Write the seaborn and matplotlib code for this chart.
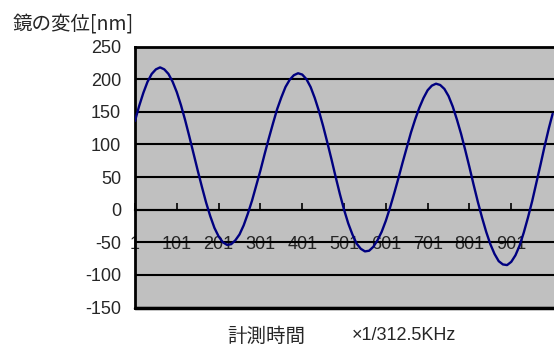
import matplotlib
matplotlib.use('Agg')
import matplotlib.pyplot as plt
import pandas as pd
import seaborn as sns

# ---- data ----
sample_index = [1, 11, 21, 31, 41, 51, 61,
                71, 81, 91, 101, 111, 121, 131, 141, 151, 161, 171, 181, 191, 201, 211, 221,
                231, 241, 251, 261, 271, 281, 291, 301, 311, 321, 331, 341, 351, 361, 371, 381, 391,
                401, 411, 421, 431, 441, 451, 461, 471, 481, 491, 501, 511, 521, 531, 541, 551,
                561, 571, 581, 591, 601, 611, 621, 631, 641, 651, 661, 671, 681, 691, 701, 711, 721,
                731, 741, 751, 761, 771, 781, 791, 801, 811, 821, 831, 841, 851, 861, 871, 881,
                891, 901, 911, 921, 931, 941, 951, 961, 971, 981, 991, 1000]
displacement_nm = [136, 159, 179, 196, 208, 215, 218,
                   215, 208, 196, 180, 160, 137, 112, 86, 60, 35, 11, -10, -28, -41, -50, -54,
                   -53, -47, -38, -24, -6, 14, 37, 60, 85, 109, 132, 154, 172, 188, 199, 206, 209,
                   207, 200, 188, 171, 151, 128, 103, 77, 50, 24, 0, -21, -38, -52, -60, -64,
                   -63, -57, -47, -34, -17, 3, 25, 48, 72, 95, 118, 138, 156, 171, 183, 190, 193,
                   191, 185, 174, 158, 138, 116, 91, 65, 38, 12, -12, -34, -53, -68, -79, -84,
                   -85, -80, -70, -55, -35, -12, 13, 41, 69, 98, 125, 147]
y_ticks = [-150, -100, -50, 0, 50, 100, 150, 200, 250]
x_tick_positions = [1, 101, 201, 301, 401, 501, 601, 701, 801, 901]
x_tick_labels = ['1', '101', '201', '301', '401', '501', '601', '701', '801', '901']
title_text = '鏡の変位[nm]'
xlabel_main = '計測時間'
xlabel_unit = '×1/312.5KHz'

sns.set_style('white')
plt.rcParams['font.family'] = ['Liberation Sans', 'Noto Sans CJK JP', 'DejaVu Sans']
plt.rcParams['axes.unicode_minus'] = False

W, H = 554, 347
fig = plt.figure(figsize=(W / 100, H / 100), dpi=100)
ax = fig.add_axes([135 / W, 1 - 307.5 / H, (556 - 135) / W, 261 / H])

df = pd.DataFrame({'index': sample_index, 'value': displacement_nm})
sns.lineplot(data=df, x='index', y='value', ax=ax, color='#000080', linewidth=1.7, zorder=3)

ax.set_facecolor('#C0C0C0')
ax.set_xlim(1, 1008)
ax.set_ylim(-150, 250)
ax.set_yticks(y_ticks)
ax.set_xticks(x_tick_positions, labels=x_tick_labels)
ax.set_xlabel('')
ax.set_ylabel('')

ax.yaxis.grid(True, color='black', linewidth=1.5)
ax.xaxis.grid(False)
ax.set_axisbelow(True)

ax.spines['bottom'].set_position(('data', 0))
ax.spines['bottom'].set_color('black')
ax.spines['bottom'].set_linewidth(1.5)
for s in ['top', 'left']:
    ax.spines[s].set_color('black')
    ax.spines[s].set_linewidth(2)
ax.spines['right'].set_visible(False)
ax.axhline(-150, color='black', linewidth=2.5, clip_on=False, zorder=4)

ax.tick_params(axis='x', direction='in', length=5, width=1.2, color='black',
               pad=19, labelsize=13, bottom=True)
ax.tick_params(axis='y', length=0, pad=10, labelsize=13, left=True)

fig.text(13 / W, 1 - 24 / H, title_text, fontsize=14, ha='left', va='center',
         family=['Noto Sans CJK JP', 'DejaVu Sans'])
fig.text(227 / W, 1 - 336 / H, xlabel_main, fontsize=14, ha='left', va='center',
         family=['Noto Sans CJK JP', 'DejaVu Sans'])
fig.text(352 / W, 1 - 336 / H, xlabel_unit, fontsize=13, ha='left', va='center',
         family=['Liberation Sans', 'DejaVu Sans'])

fig.savefig('out.png', dpi=100, facecolor='white')
